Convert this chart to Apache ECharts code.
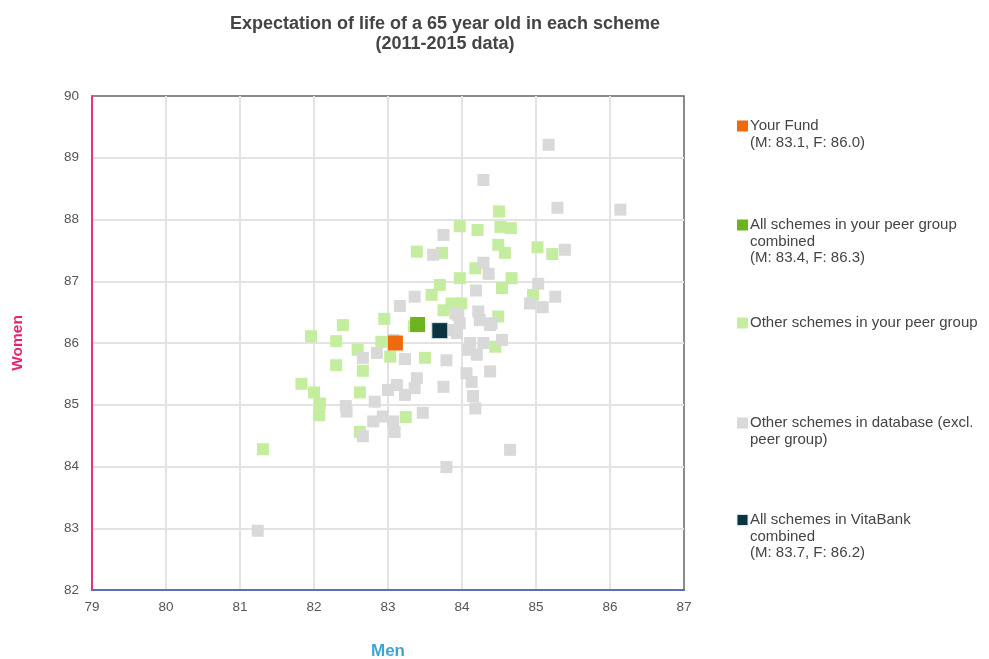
<!DOCTYPE html>
<html>
<head>
<meta charset="utf-8">
<script src="https://cdn.jsdelivr.net/npm/echarts@6/dist/echarts.min.js"></script>
<style>
  html, body { margin: 0; padding: 0; background: #fff; }
  #chart { width: 989px; height: 659px; }
</style>
</head>
<body>
<div id="chart"></div>
<script>
// [men, women] life expectancy at 65
const yourFund = [[83.1, 86.0]]
const peerCombined = [[83.4, 86.3]]
const vitaCombined = [[83.7, 86.2]]

const peerSchemes = [
  [81.31, 84.28], [81.83, 85.34], [81.96, 86.11], [82.00, 85.20], [82.08, 85.02],
  [82.07, 84.83], [82.30, 86.03], [82.30, 85.64], [82.39, 86.29], [82.59, 85.89],
  [82.62, 85.20], [82.62, 84.56], [82.66, 85.55], [82.91, 86.02], [82.95, 86.39],
  [83.03, 85.78], [83.24, 84.80], [83.35, 86.27], [83.39, 87.48], [83.50, 85.76],
  [83.59, 86.78], [83.70, 86.94], [83.73, 87.46], [83.75, 86.53], [83.86, 86.64],
  [83.97, 87.89], [83.97, 87.05], [83.99, 86.64], [84.18, 87.21], [84.21, 87.83],
  [84.45, 85.94], [84.49, 86.43], [84.49, 87.59], [84.50, 88.13], [84.52, 87.88],
  [84.54, 86.89], [84.58, 87.46], [84.66, 87.86], [84.67, 87.05], [84.96, 86.78],
  [85.02, 87.55], [85.22, 87.44]
]

const otherSchemes = [
  [81.24, 82.96], [82.44, 84.89], [82.43, 84.98], [82.66, 84.49], [82.66, 85.76],
  [82.80, 84.73], [82.82, 85.05], [82.85, 85.84], [82.93, 84.81], [83.00, 85.24],
  [83.07, 84.73], [83.09, 84.56], [83.07, 86.05], [83.12, 85.32], [83.16, 86.60],
  [83.23, 85.74], [83.23, 85.16], [83.36, 85.27], [83.39, 85.43], [83.47, 84.87],
  [83.36, 86.75], [83.61, 87.43], [83.75, 87.75], [83.75, 85.29], [83.79, 85.72],
  [83.79, 83.99], [83.88, 86.21], [83.91, 86.48], [83.93, 86.16], [83.95, 86.45],
  [83.97, 86.32], [84.06, 85.51], [84.09, 85.89], [84.11, 86.00], [84.13, 85.37],
  [84.15, 85.14], [84.18, 84.94], [84.19, 86.85], [84.20, 85.81], [84.22, 86.51],
  [84.24, 86.37], [84.29, 86.00], [84.29, 87.30], [84.29, 88.64], [84.36, 87.12],
  [84.38, 86.29], [84.38, 85.54], [84.40, 86.32], [84.54, 86.05], [84.65, 84.27],
  [84.92, 86.64], [85.03, 86.96], [85.09, 86.58], [85.17, 89.21], [85.26, 86.75],
  [85.29, 88.19], [85.39, 87.51], [86.14, 88.16]
]

const xTicks = { min: 79, max: 87, interval: 1 }
const yTicks = { min: 82, max: 90, interval: 1 }

const colors = {
  fund: '#ef6a0c',
  peer: '#6cb31f',
  peerOther: '#c5eda0',
  dbOther: '#d9d9d9',
  vita: '#0c3340'
}

const mf = (p) => `(M: ${p[0].toFixed(1)}, F: ${p[1].toFixed(1)})`
// legend blocks: key, text, vertical centre of the icon
const legendItems = [
  ['fund', 'Your Fund\n' + mf(yourFund[0]), 126],
  ['peer', 'All schemes in your peer group\ncombined\n' + mf(peerCombined[0]), 225],
  ['peerOther', 'Other schemes in your peer group', 323],
  ['dbOther', 'Other schemes in database (excl.\npeer group)', 423],
  ['vita', 'All schemes in VitaBank\ncombined\n' + mf(vitaCombined[0]), 520]
]

const FONT = 'Liberation Sans, Arial, sans-serif'
const LH = 16.5
const legendGraphics = []
legendItems.forEach(([key, text, cy]) => {
  legendGraphics.push({
    type: 'rect',
    shape: { x: 737, y: cy - 5.5, width: 11, height: 11 },
    style: key === 'vita'
      ? { fill: colors[key], stroke: '#d4e6ec', lineWidth: 1 }
      : { fill: colors[key] }
  })
  legendGraphics.push({
    type: 'text',
    x: 750,
    y: cy - LH / 2,
    style: {
      text: text,
      fontFamily: FONT,
      fontSize: 15,
      fill: '#444',
      lineHeight: LH,
      verticalAlign: 'top'
    }
  })
})

const chart = echarts.init(document.getElementById('chart'))
chart.setOption({
  animation: false,
  backgroundColor: '#fff',
  textStyle: { fontFamily: FONT },
  title: {
    text: 'Expectation of life of a 65 year old in each scheme\n(2011-2015 data)',
    left: 440,
    textAlign: 'center',
    top: 9,
    textStyle: { fontSize: 18, fontWeight: 'bold', color: '#444', lineHeight: 20 }
  },
  graphic: legendGraphics,
  grid: {
    left: 92, right: 305, top: 96, bottom: 69,
    outerBoundsMode: 'none',
    containLabel: false,
    show: true, borderColor: '#666', borderWidth: 1.5, backgroundColor: 'transparent'
  },
  xAxis: {
    type: 'value',
    min: xTicks.min, max: xTicks.max, interval: xTicks.interval,
    name: 'Men', nameLocation: 'middle', nameGap: 53,
    nameTextStyle: { color: '#3ea6d6', fontWeight: 'bold', fontSize: 17 },
    axisLine: { lineStyle: { color: '#5a6fb8', width: 2 } },
    axisTick: { show: false },
    axisLabel: { color: '#555', fontSize: 13.5, margin: 10 },
    splitLine: { showMaxLine: false, lineStyle: { color: '#e3e3e3', width: 2 } }
  },
  yAxis: {
    type: 'value',
    min: yTicks.min, max: yTicks.max, interval: yTicks.interval,
    name: 'Women', nameLocation: 'middle', nameGap: 66,
    nameTextStyle: { color: '#e8226e', fontWeight: 'bold', fontSize: 15.5 },
    axisLine: { show: true, lineStyle: { color: '#e8337a', width: 2 } },
    axisTick: { show: false },
    axisLabel: { color: '#555', fontSize: 13.5, margin: 13 },
    splitLine: { showMaxLine: false, lineStyle: { color: '#e3e3e3', width: 2 } }
  },
  series: [
    {
      name: 'Other schemes in your peer group', type: 'scatter', data: peerSchemes,
      symbol: 'rect', symbolSize: 12, itemStyle: { color: colors.peerOther, opacity: 1 }, z: 2
    },
    {
      name: 'Other schemes in database (excl. peer group)', type: 'scatter', data: otherSchemes,
      symbol: 'rect', symbolSize: 12, itemStyle: { color: colors.dbOther, opacity: 1 }, z: 3
    },
    {
      name: 'Your Fund', type: 'scatter', data: yourFund,
      symbol: 'rect', symbolSize: 15, itemStyle: { color: colors.fund, opacity: 1 }, z: 4
    },
    {
      name: 'All schemes in your peer group combined', type: 'scatter', data: peerCombined,
      symbol: 'rect', symbolSize: 15, itemStyle: { color: colors.peer, opacity: 1 }, z: 4
    },
    {
      name: 'All schemes in VitaBank combined', type: 'scatter', data: vitaCombined,
      symbol: 'rect', symbolSize: 16,
      itemStyle: { color: colors.vita, borderColor: '#d4e6ec', borderWidth: 1, opacity: 1 }, z: 5
    }
  ]
})
</script>
</body>
</html>
